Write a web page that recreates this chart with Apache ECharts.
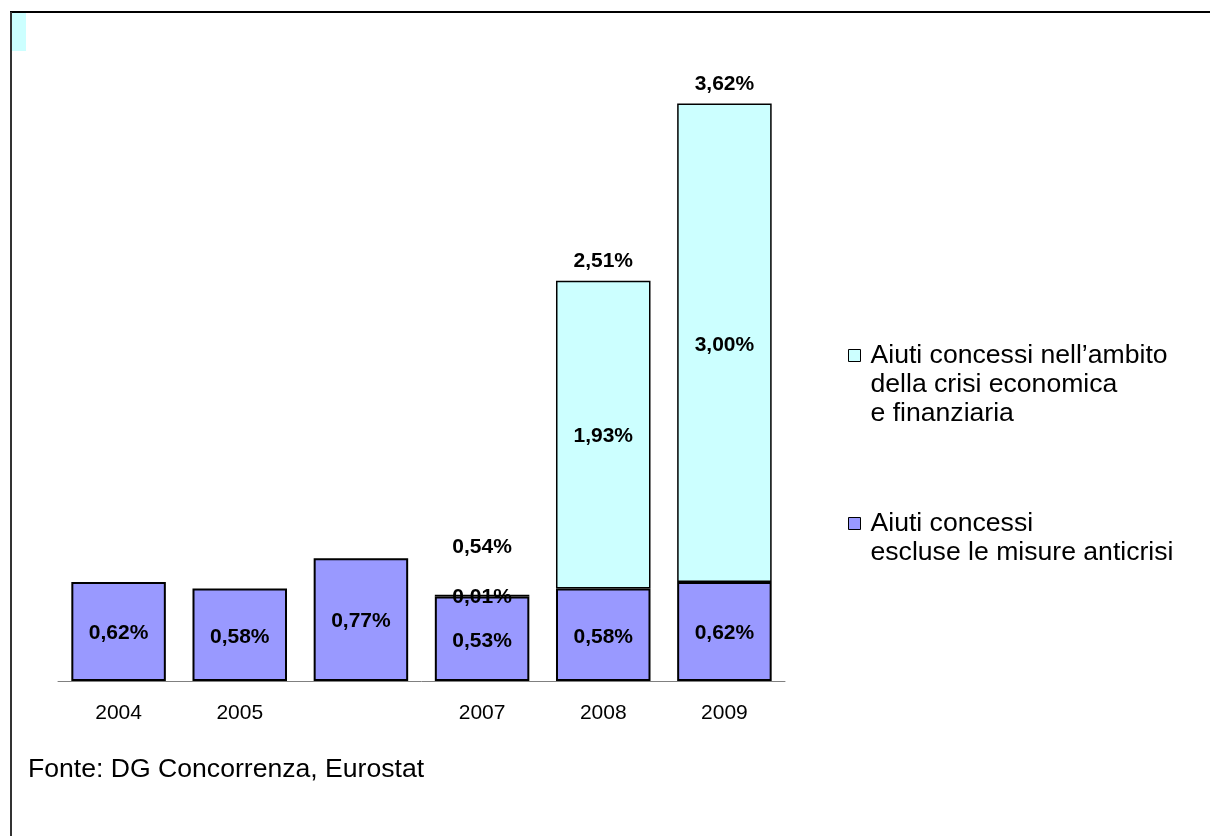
<!DOCTYPE html>
<html>
<head>
<meta charset="utf-8">
<style>html,body{margin:0;padding:0;background:#fff;}#c{width:1210px;height:836px;}</style>
<script src="https://cdn.jsdelivr.net/npm/echarts@6/dist/echarts.min.js"></script>
</head>
<body>
<div id="c"></div>
<script>
var categories = ['2004', '2005', '', '2007', '2008', '2009'];
var ordinari = [0.62, 0.58, 0.77, 0.53, 0.58, 0.62];
var anticrisi = [null, null, null, 0.01, 1.93, 3.00];
var totali = [null, null, null, 0.54, 2.51, 3.62];
var nameCrisi = 'Aiuti concessi nell’ambito\ndella crisi economica\ne finanziaria';
var nameOrd = 'Aiuti concessi\nescluse le misure anticrisi';
var fonte = 'Fonte: DG Concorrenza, Eurostat';

function fmt(v) {
  if (v === null || v === undefined) return '';
  return v.toFixed(2).replace('.', ',') + '%';
}
var FONT = '"Liberation Sans", Arial, sans-serif';
var lblStyle = { show: true, color: '#000', fontWeight: 'bold', fontSize: 21, fontFamily: FONT,
  formatter: function (p) { return fmt(p.value); } };

var totalData = totali.map(function (v, i) {
  return { value: v, label: { distance: i === 3 ? 37 : 8 } };
});

// Prepend blank lines so that the first text line sits level with the legend icon
function legendFmt(name) {
  var n = name.split('\n').length;
  var pre = '';
  for (var k = 1; k < n; k++) pre += '\n';
  return pre + name;
}
var legendBase = {
  padding: 0, orient: 'vertical', icon: 'rect', itemWidth: 12, itemHeight: 12, selectedMode: false,
  itemStyle: { borderColor: '#000', borderWidth: 1 },
  formatter: legendFmt,
  textStyle: { color: '#000', fontSize: 26.6, fontFamily: FONT, lineHeight: 29, padding: [0, 0, 0, 5] }
};

var chart = echarts.init(document.getElementById('c'));
chart.setOption({
  backgroundColor: '#fff',
  animation: false,
  grid: { left: 58, width: 727, top: 43, height: 638 },
  xAxis: {
    type: 'category', data: categories,
    axisLine: { lineStyle: { color: '#808080', width: 1 } },
    axisTick: { show: false },
    axisLabel: { color: '#000', fontSize: 21, fontFamily: FONT, margin: 22 }
  },
  yAxis: { type: 'value', min: 0, max: 4, show: false, splitLine: { show: false } },
  legend: [
    Object.assign({}, legendBase, { data: [nameCrisi], left: 848, top: 283 }),
    Object.assign({}, legendBase, { data: [nameOrd], left: 848, top: 480 })
  ],
  series: [
    { name: nameOrd, type: 'bar', stack: 'tot', data: ordinari, barCategoryGap: '22%',
      itemStyle: { color: '#9999FF', borderColor: '#000', borderWidth: 2 },
      label: Object.assign({ position: 'inside', offset: [0, 2] }, lblStyle) },
    { name: nameCrisi, type: 'bar', stack: 'tot', data: anticrisi,
      itemStyle: { color: '#CCFFFF', borderColor: '#000', borderWidth: 1.5 },
      label: Object.assign({ position: 'inside', offset: [0, 2] }, lblStyle) },
    { name: 'Totale', type: 'scatter', data: totalData, symbolSize: 1,
      itemStyle: { color: 'rgba(0,0,0,0)', opacity: 1 },
      label: Object.assign({ position: 'top' }, lblStyle) }
  ],
  graphic: [
    { type: 'line', shape: { x1: 10, y1: 12, x2: 1210, y2: 12 }, style: { stroke: '#000', lineWidth: 2 } },
    { type: 'line', shape: { x1: 11, y1: 12, x2: 11, y2: 836 }, style: { stroke: '#333', lineWidth: 2 } },
    { type: 'rect', shape: { x: 12, y: 13, width: 14, height: 38 }, style: { fill: '#CCFFFF' } },
    { type: 'text', x: 28, y: 770, style: { text: fonte, fill: '#000',
      font: '26.6px ' + FONT, textVerticalAlign: 'middle' } }
  ]
});
</script>
</body>
</html>
